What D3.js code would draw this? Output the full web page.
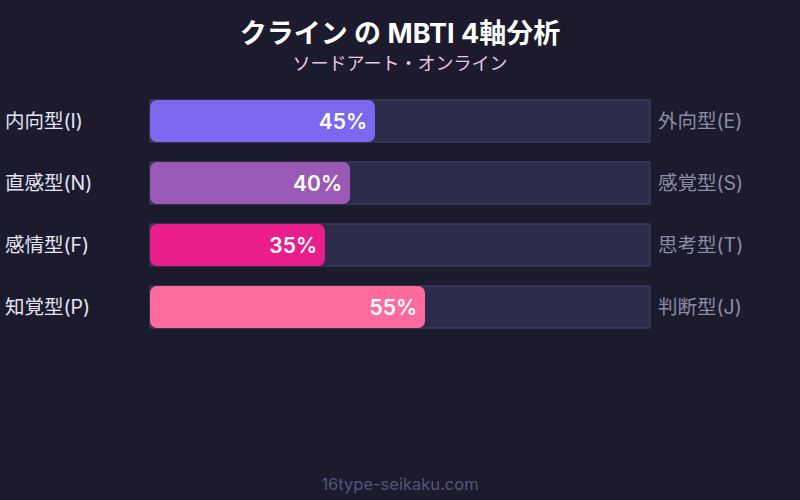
<!doctype html>
<html>
<head>
  <meta charset="utf-8">
  <script src="https://cdnjs.cloudflare.com/ajax/libs/d3/7.8.5/d3.min.js"></script>
  <style>
    body { margin: 0; background: #1b1b2d; }
    svg { display: block; font-family: Inter, "Noto Sans CJK JP", sans-serif; }
  </style>
</head>
<body>
  <svg width="800" height="500"></svg>
  <script>
var leftLabels = ["内向型(I)", "直感型(N)", "感情型(F)", "知覚型(P)"];
var rightLabels = ["外向型(E)", "感覚型(S)", "思考型(T)", "判断型(J)"];
var values = [45, 40, 35, 55];
var colors = ["#7b68ee", "#9b59b6", "#e91e8c", "#ff6b9d"];

var svg = d3.select("svg");

svg.append("rect").attr("width", 800).attr("height", 500).attr("fill", "#1b1b2d");

svg.append("text").attr("x", 400).attr("y", 43)
  .attr("text-anchor", "middle").attr("fill", "#ffffff")
  .style("font-size", "27px").style("font-weight", "bold")
  .text("クライン の MBTI 4軸分析");

svg.append("text").attr("x", 400).attr("y", 70)
  .attr("text-anchor", "middle").attr("fill", "#e8c8e4")
  .style("font-size", "18px")
  .text("ソードアート・オンライン");

svg.append("text").attr("x", 400).attr("y", 490)
  .attr("text-anchor", "middle").attr("fill", "#55557a")
  .style("font-size", "16.5px")
  .text("16type-seikaku.com");

var x = d3.scaleLinear().domain([0, 100]).range([150, 650]);
var y = d3.scaleBand().domain(d3.range(values.length)).range([90, 338]).paddingInner(20 / 62).paddingOuter(10 / 62);

var rows = svg.selectAll("g.row").data(values).enter().append("g").attr("class", "row");

rows.append("rect")
  .attr("x", x(0)).attr("y", (d, i) => y(i))
  .attr("width", x(100) - x(0)).attr("height", y.bandwidth())
  .attr("fill", "#2c2b4a").attr("stroke", "#45456a").attr("stroke-width", 1);

rows.append("rect")
  .attr("x", x(0)).attr("y", (d, i) => y(i))
  .attr("width", d => x(d) - x(0)).attr("height", y.bandwidth())
  .attr("rx", 7).attr("fill", (d, i) => colors[i]);

rows.append("text")
  .attr("x", d => x(d) - 8).attr("y", (d, i) => y(i) + y.bandwidth() / 2)
  .attr("dy", "0.36em").attr("text-anchor", "end").attr("fill", "#ffffff")
  .style("font-size", "21px").style("font-weight", "600")
  .text(d => d + "%");

rows.append("text")
  .attr("x", 5).attr("y", (d, i) => y(i) + y.bandwidth() / 2)
  .attr("dy", "0.36em").attr("fill", "#e4e4f4")
  .style("font-size", "19.5px")
  .text((d, i) => leftLabels[i]);

rows.append("text")
  .attr("x", 658).attr("y", (d, i) => y(i) + y.bandwidth() / 2)
  .attr("dy", "0.36em").attr("fill", "#8c8ca6")
  .style("font-size", "19.5px")
  .text((d, i) => rightLabels[i]);
  </script>
</body>
</html>
